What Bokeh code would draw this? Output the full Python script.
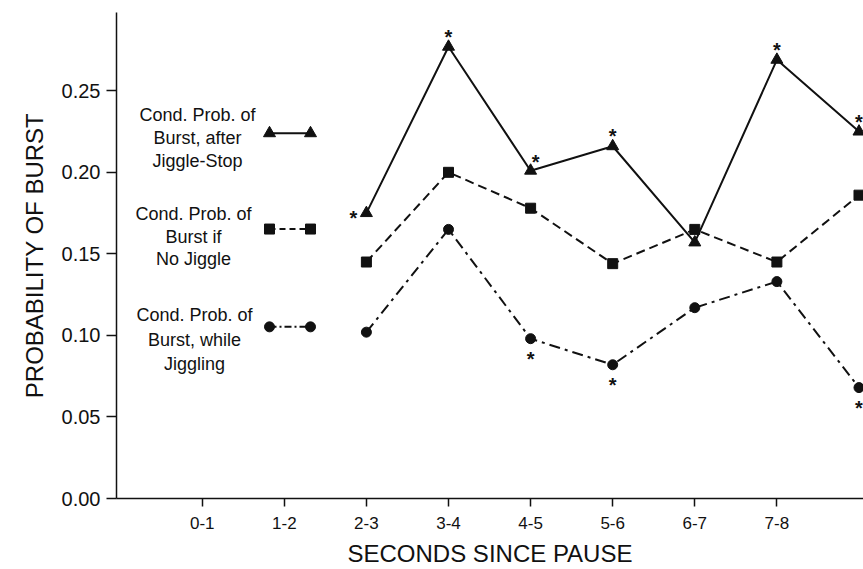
from bokeh.plotting import figure
from bokeh.models import FixedTicker, Range1d, ColumnDataSource
from bokeh.core.properties import value
from bokeh.embed import file_html
from bokeh.resources import INLINE

# ---------------- data ----------------
tick_labels = ["0-1", "1-2", "2-3", "3-4", "4-5", "5-6", "6-7", "7-8"]
tick_pos = [1, 2, 3, 4, 5, 6, 7, 8]
x_pos = [3, 4, 5, 6, 7, 8, 9]          # intervals 2-3 ... 8-9
after_stop = [0.175, 0.277, 0.201, 0.216, 0.157, 0.269, 0.225]
no_jiggle = [0.145, 0.200, 0.178, 0.144, 0.165, 0.145, 0.186]
while_jiggling = [0.102, 0.165, 0.098, 0.082, 0.117, 0.133, 0.068]
# significance marks: where the asterisk sits relative to the point
after_stop_sig = ["left", "above", "above-right", "above", None, "above", "above"]
while_jiggling_sig = [None, None, "below", "below", None, None, "below"]

legend_texts = [
    ["Cond. Prob. of", "Burst, after", "Jiggle-Stop"],
    ["Cond. Prob. of", "Burst if", "No Jiggle"],
    ["Cond. Prob. of", "Burst, while", "Jiggling"],
]

# ---------------- geometry ----------------
W, H = 863, 569
LEFT, RIGHT, TOP, BOTTOM = 116, 0, 12, 70
X_START, X_END = -0.044, 9.055
Y_START, Y_END = 0.0, 0.298
FW = W - LEFT - RIGHT
FH = H - TOP - BOTTOM
FONT = "Liberation Sans"
INK = "#111111"


def px_x(px):
    return X_START + (px - LEFT) / FW * (X_END - X_START)


def px_y(py):
    return Y_START + (TOP + FH - py) / FH * (Y_END - Y_START)


p = figure(width=W, height=H, output_backend="svg", toolbar_location=None,
           x_range=Range1d(X_START, X_END), y_range=Range1d(Y_START, Y_END),
           min_border_left=LEFT, min_border_right=RIGHT,
           min_border_top=TOP, min_border_bottom=BOTTOM)
p.outline_line_color = None
p.grid.visible = False
p.background_fill_color = "white"
p.border_fill_color = "white"

# axes
for ax in (p.xaxis[0], p.yaxis[0]):
    ax.axis_line_color = INK
    ax.axis_line_width = 1.5
    ax.major_tick_line_color = INK
    ax.major_tick_line_width = 1.5
    ax.minor_tick_line_color = None
    ax.major_tick_in = 0
    ax.major_label_text_font = FONT
    ax.major_label_text_color = INK
    ax.axis_label_text_font = FONT
    ax.axis_label_text_font_style = "normal"
    ax.axis_label_text_color = INK

p.xaxis.ticker = FixedTicker(ticks=tick_pos)
p.xaxis.major_label_overrides = {t: l for t, l in zip(tick_pos, tick_labels)}
p.xaxis.major_tick_out = 8
p.xaxis.major_label_text_font_size = "17px"
p.xaxis.major_label_standoff = 10
p.xaxis.axis_label = "SECONDS SINCE PAUSE"
p.xaxis.axis_label_text_font_size = "24px"
p.xaxis.axis_label_standoff = 8

p.yaxis.ticker = FixedTicker(ticks=[0, 0.05, 0.10, 0.15, 0.20, 0.25])
p.yaxis.major_label_overrides = {0: "0.00", 0.05: "0.05", 0.10: "0.10",
                                 0.15: "0.15", 0.20: "0.20", 0.25: "0.25"}
p.yaxis.major_tick_out = 10
p.yaxis.major_label_text_font_size = "20px"
p.yaxis.major_label_standoff = 6
p.yaxis.axis_label = "PROBABILITY OF BURST"
p.yaxis.axis_label_text_font_size = "24px"
p.yaxis.axis_label_standoff = 11

# series
SOLID, DASH, DASHDOT = "solid", "9 5", "11 5 3 5"
series = [
    (after_stop, SOLID, "triangle", 12),
    (no_jiggle, DASH, "square", 10),
    (while_jiggling, DASHDOT, "circle", 10),
]
for ys, dash, marker, size in series:
    src = ColumnDataSource(dict(x=x_pos, y=ys))
    p.line("x", "y", source=src, line_color=INK, line_width=2, line_dash=dash)
    p.scatter("x", "y", source=src, marker=marker, size=size,
              fill_color=INK, line_color=INK)

# significance asterisks
OFFS = {"above": (0, -15), "above-right": (5, -14), "below": (0, 15),
        "left": (-13, 0)}
ax_, ay_, dx_, dy_ = [], [], [], []
for xs, ys, sig in ((x_pos, after_stop, after_stop_sig),
                    (x_pos, while_jiggling, while_jiggling_sig)):
    for xv, yv, s in zip(xs, ys, sig):
        if s:
            ax_.append(xv)
            ay_.append(yv)
            dx_.append(OFFS[s][0])
            dy_.append(OFFS[s][1] + 5)
p.text(x="x", y="y", x_offset="dx", y_offset="dy", text=value("*"),
       source=ColumnDataSource(dict(x=ax_, y=ay_, dx=dx_, dy=dy_)),
       text_font=value(FONT), text_font_size="20px", text_font_style="bold",
       text_color=INK, text_align="center", text_baseline="middle")

# custom legend (text on the left, sample line on the right)
leg_marker_py = [133, 229, 327]
leg_text_py = [[115, 138, 161], [214, 237, 259], [315, 340, 364]]
leg_text_px = [197, 193, 194]
for (ys, dash, marker, size), my, tys, tx, texts in zip(
        series, leg_marker_py, leg_text_py, leg_text_px, legend_texts):
    src = ColumnDataSource(dict(x=[px_x(269), px_x(310)], y=[px_y(my)] * 2))
    p.line("x", "y", source=src, line_color=INK, line_width=2,
           line_dash="6 4" if dash == DASH else ("7 3 2 3" if dash == DASHDOT else dash))
    p.scatter("x", "y", source=src, marker=marker, size=size,
              fill_color=INK, line_color=INK)
    p.text(x=[px_x(tx)] * 3, y=[px_y(t) for t in tys], text=texts,
           text_font=value(FONT), text_font_size="18px", text_color=INK,
           text_align="center", text_baseline="middle")

open("out.html", "w").write(file_html(p, INLINE))
